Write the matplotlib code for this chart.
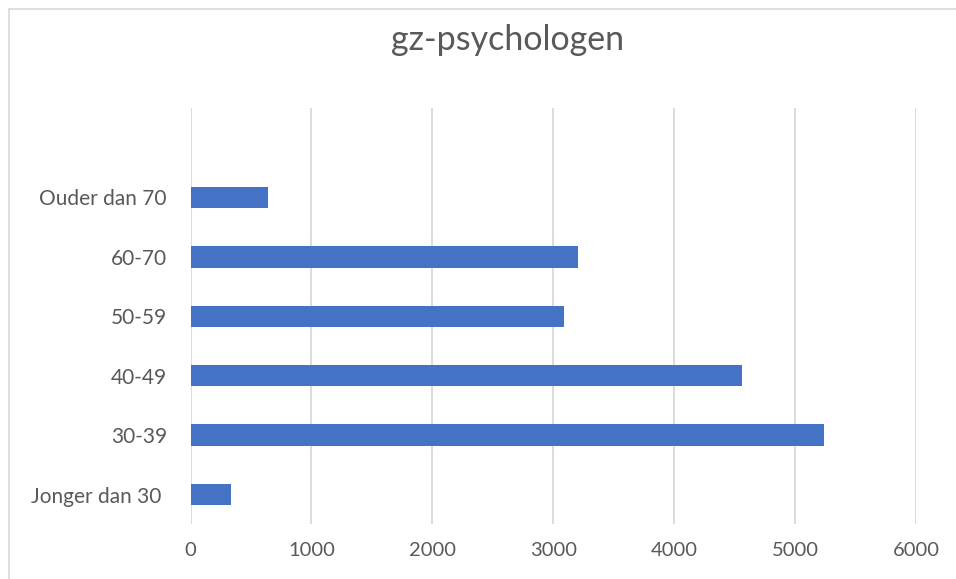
import matplotlib.pyplot as plt
from matplotlib.patches import Rectangle

categories = ["Jonger dan 30 ", "30-39", "40-49", "50-59", "60-70", "Ouder dan 70"]
values = [336, 5242, 4559, 3093, 3207, 645]
xticks = [0, 1000, 2000, 3000, 4000, 5000, 6000]

plt.rcParams['font.family'] = ['Lato', 'DejaVu Sans']

fig = plt.figure(figsize=(9.56, 5.79), dpi=100)
W, H = 956, 579

# chart border (Excel style)
fig.patches.append(Rectangle((9 / W, -0.1), 1.2, 1 - 9 / H + 0.1, transform=fig.transFigure,
                             fill=False, edgecolor='#d9d9d9', linewidth=1.2))

ax = fig.add_axes([190.5 / W, (H - 524.3) / H, (916 - 190.5) / W, (524.3 - 108.3) / H])
pos = list(range(len(categories)))
ax.barh(pos, values, height=0.36, color='#4472c4', zorder=3)

ax.set_xlim(0, 6000)
ax.set_ylim(-0.5, 6.5)
ax.set_xticks(xticks)
ax.set_xticklabels([str(t) for t in xticks])
ax.set_yticks(pos)
ax.set_yticklabels(categories, fontsize=15)
ax.grid(axis='x', color='#d9d9d9', linewidth=1.3, zorder=0)
for s in ax.spines.values():
    s.set_visible(False)
ax.tick_params(axis='both', length=0, labelcolor='#595959')
ax.tick_params(axis='x', labelsize=14.5, pad=13)
ax.tick_params(axis='y', pad=17)

fig.text(508 / W, 1 - 40 / H, "gz-psychologen", ha='center', va='center',
         fontsize=24.5, color='#595959')

fig.savefig("out.png", dpi=100)
